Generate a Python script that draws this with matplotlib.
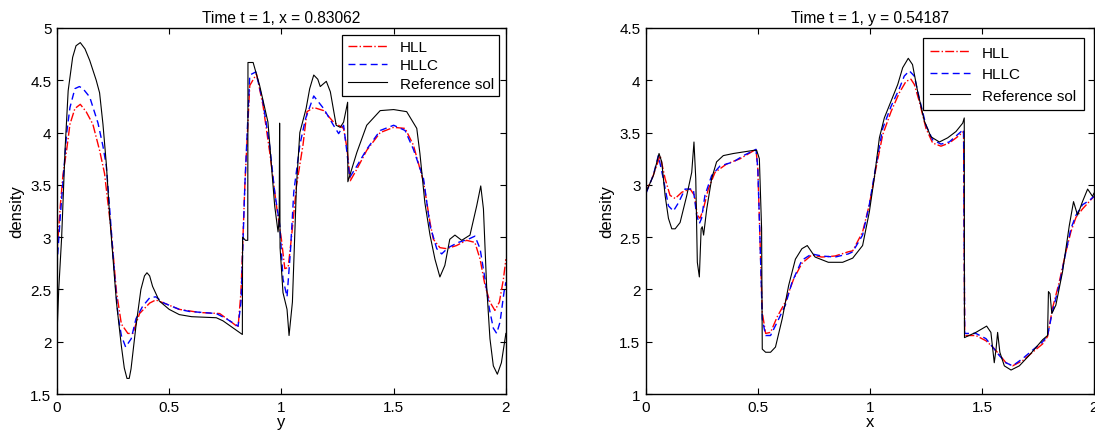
import matplotlib
matplotlib.use("Agg")
import matplotlib.pyplot as plt
from matplotlib.ticker import FormatStrFormatter

plt.rcParams['font.family'] = ['Liberation Sans', 'DejaVu Sans']

# ---- left panel: cut at x = 0.83062, plotted against y ----
ref_l_x = [0, 0.008, 0.021, 0.036, 0.05, 0.07, 0.085, 0.104, 0.125, 0.146, 0.175, 0.19, 0.205, 0.22,
           0.235, 0.25, 0.265, 0.287, 0.3, 0.312, 0.322, 0.33, 0.352, 0.374, 0.39, 0.401, 0.413, 0.426,
           0.456, 0.5, 0.545, 0.6, 0.71, 0.74, 0.826, 0.827, 0.84, 0.85, 0.851, 0.874, 0.903, 0.94,
           0.97, 0.985, 0.99, 0.992, 0.994, 1.007, 1.025, 1.034, 1.049, 1.067, 1.082, 1.11, 1.126,
           1.144, 1.162, 1.173, 1.2, 1.218, 1.244, 1.262, 1.277, 1.295, 1.296, 1.336, 1.38, 1.44, 1.5,
           1.558, 1.603, 1.617, 1.639, 1.662, 1.684, 1.706, 1.728, 1.75, 1.773, 1.803, 1.84, 1.87,
           1.888, 1.9, 1.914, 1.929, 1.944, 1.962, 1.98, 2.0]
ref_l_y = [2.06, 2.5, 3.0, 3.83, 4.40, 4.72, 4.83, 4.86, 4.8, 4.69, 4.5, 4.38, 4.08, 3.7,
           3.2, 2.79, 2.38, 1.96, 1.75, 1.65, 1.65, 1.74, 2.15, 2.5, 2.63, 2.66, 2.63, 2.53,
           2.39, 2.31, 2.26, 2.24, 2.23, 2.2, 2.07, 3.0, 2.97, 2.97, 4.67, 4.67, 4.45, 4.1,
           3.3, 3.05, 3.17, 4.09, 2.9, 2.47, 2.31, 2.06, 2.38, 3.49, 4.0, 4.23, 4.42,
           4.55, 4.51, 4.44, 4.49, 4.39, 4.07, 4.05, 4.1, 4.29, 3.53, 3.81, 4.07, 4.21, 4.22,
           4.2, 4.04, 3.8, 3.33, 3.02, 2.79, 2.62, 2.73, 2.98, 3.02, 2.97, 3.02, 3.3,
           3.49, 3.27, 2.54, 2.03, 1.77, 1.69, 1.8, 2.08]

hllc_l_x = [0, 0.015, 0.027, 0.043, 0.058, 0.08, 0.1, 0.116, 0.146, 0.183, 0.205, 0.22, 0.235, 0.257,
            0.272, 0.287, 0.306, 0.331, 0.352, 0.382, 0.413, 0.44, 0.477, 0.545, 0.59, 0.71, 0.755,
            0.807, 0.82, 0.837, 0.859, 0.886, 0.918, 0.948, 0.97, 0.993, 1.007, 1.025, 1.04, 1.055,
            1.082, 1.107, 1.144, 1.188, 1.232, 1.255, 1.277, 1.292, 1.304, 1.336, 1.38, 1.44, 1.5,
            1.551, 1.588, 1.633, 1.662, 1.692, 1.714, 1.743, 1.788, 1.832, 1.862, 1.885, 1.907,
            1.926, 1.944, 1.959, 1.974, 1.992, 2.0]
hllc_l_y = [2.73, 3.2, 3.53, 3.99, 4.24, 4.42, 4.44, 4.42, 4.34, 4.09, 3.87, 3.68, 3.27, 2.63,
            2.25, 2.06, 1.95, 2.03, 2.22, 2.34, 2.42, 2.43, 2.37, 2.31, 2.29, 2.27, 2.22,
            2.15, 2.38, 3.49, 4.55, 4.58, 4.29, 3.87, 3.43, 3.11, 2.6, 2.43, 2.86, 3.43,
            3.88, 4.13, 4.35, 4.23, 4.07, 3.99, 4.07, 3.81, 3.57, 3.68, 3.84, 4.02, 4.07,
            4.02, 3.84, 3.56, 3.11, 2.89, 2.84, 2.9, 2.95, 2.98, 3.01, 2.89, 2.6,
            2.32, 2.13, 2.08, 2.19, 2.48, 2.57]

hll_l_x = [0, 0.015, 0.027, 0.043, 0.058, 0.08, 0.104, 0.13, 0.16, 0.19, 0.212, 0.242, 0.265, 0.287,
           0.316, 0.338, 0.368, 0.413, 0.44, 0.477, 0.545, 0.636, 0.725, 0.77, 0.807, 0.82, 0.837,
           0.859, 0.889, 0.918, 0.948, 0.978, 1.0, 1.015, 1.03, 1.045, 1.067, 1.096, 1.114, 1.144,
           1.188, 1.232, 1.277, 1.292, 1.307, 1.336, 1.38, 1.44, 1.5, 1.551, 1.588, 1.633, 1.662,
           1.677, 1.706, 1.736, 1.78, 1.825, 1.862, 1.885, 1.907, 1.929, 1.951, 1.971, 1.989, 2.0]
hll_l_y = [2.85, 3.3, 3.6, 3.83, 4.08, 4.23, 4.27, 4.2, 4.08, 3.83, 3.61, 3.05, 2.48, 2.17,
           2.08, 2.08, 2.27, 2.37, 2.4, 2.37, 2.31, 2.28, 2.27, 2.2, 2.14, 2.48, 3.49,
           4.45, 4.56, 4.26, 3.81, 3.3, 2.98, 2.7, 2.71, 3.0, 3.49, 3.88, 4.2, 4.24,
           4.21, 4.1, 4.04, 3.85, 3.54, 3.65, 3.83, 4.0, 4.05, 4.04, 3.88, 3.53, 3.14,
           2.98, 2.9, 2.89, 2.92, 2.97, 2.95, 2.79, 2.54, 2.38, 2.3, 2.38, 2.6, 2.79]

# ---- right panel: cut at y = 0.54187, plotted against x ----
ref_r_x = [0, 0.033, 0.058, 0.07, 0.085, 0.1, 0.115, 0.13, 0.152, 0.182, 0.204, 0.214, 0.222, 0.229,
           0.238, 0.246, 0.251, 0.257, 0.271, 0.293, 0.315, 0.345, 0.39, 0.42, 0.48, 0.494, 0.506,
           0.516, 0.519, 0.534, 0.556, 0.578, 0.608, 0.637, 0.667, 0.696, 0.72, 0.755, 0.814, 0.878,
           0.923, 0.967, 0.997, 1.019, 1.042, 1.064, 1.094, 1.124, 1.146, 1.171, 1.19, 1.213, 1.243,
           1.272, 1.31, 1.347, 1.384, 1.414, 1.421, 1.422, 1.473, 1.521, 1.54, 1.555, 1.563, 1.57,
           1.58, 1.6, 1.63, 1.667, 1.711, 1.771, 1.793, 1.797, 1.804, 1.812, 1.83, 1.86, 1.89,
           1.909, 1.927, 1.949, 1.972, 1.994, 2.0]
ref_r_y = [2.93, 3.09, 3.3, 3.22, 2.9, 2.68, 2.58, 2.58, 2.64, 2.9, 3.12, 3.41, 3.06, 2.26,
           2.12, 2.58, 2.6, 2.52, 2.77, 3.06, 3.22, 3.28, 3.3, 3.31, 3.33, 3.33, 3.25,
           2.58, 1.43, 1.4, 1.4, 1.45, 1.72, 2.04, 2.29, 2.39, 2.42, 2.31, 2.26, 2.26,
           2.3, 2.42, 2.74, 3.06, 3.45, 3.64, 3.8, 3.96, 4.12, 4.21, 4.15, 3.89, 3.61,
           3.46, 3.41, 3.45, 3.51, 3.59, 3.64, 1.54, 1.59, 1.65, 1.59, 1.3, 1.43, 1.59,
           1.4, 1.27, 1.23, 1.27, 1.37, 1.52, 1.56, 1.98, 1.96, 1.77, 1.85, 2.17, 2.61,
           2.84, 2.71, 2.84, 2.96, 2.89, 2.92]

hllc_r_x = [0, 0.032, 0.055, 0.077, 0.1, 0.122, 0.145, 0.174, 0.211, 0.226, 0.238, 0.248, 0.263,
            0.293, 0.33, 0.39, 0.435, 0.491, 0.499, 0.507, 0.519, 0.534, 0.556, 0.586, 0.622, 0.652,
            0.696, 0.74, 0.785, 0.844, 0.903, 0.923, 0.967, 0.997, 1.027, 1.057, 1.094, 1.131, 1.153,
            1.176, 1.198, 1.22, 1.25, 1.28, 1.317, 1.354, 1.391, 1.418, 1.423, 1.473, 1.518, 1.548,
            1.577, 1.607, 1.637, 1.682, 1.726, 1.771, 1.793, 1.815, 1.845, 1.875, 1.897, 1.92,
            1.949, 1.979, 2.0]
hllc_r_y = [2.92, 3.09, 3.28, 3.06, 2.8, 2.75, 2.83, 2.96, 2.96, 2.71, 2.63, 2.68, 2.9,
            3.09, 3.18, 3.22, 3.28, 3.34, 3.16, 2.61, 1.72, 1.56, 1.56, 1.69, 1.85, 2.07,
            2.28, 2.34, 2.32, 2.31, 2.34, 2.36, 2.52, 2.81, 3.19, 3.54, 3.75, 3.92, 4.04,
            4.09, 4.04, 3.83, 3.57, 3.43, 3.39, 3.41, 3.48, 3.53, 1.58, 1.58, 1.53, 1.45,
            1.37, 1.3, 1.27, 1.34, 1.42, 1.5, 1.56, 1.79, 2.04, 2.36, 2.58, 2.71,
            2.81, 2.85, 2.89]

hll_r_x = [0, 0.032, 0.063, 0.085, 0.107, 0.13, 0.16, 0.197, 0.216, 0.229, 0.241, 0.256, 0.278,
           0.308, 0.36, 0.42, 0.491, 0.499, 0.507, 0.519, 0.534, 0.556, 0.586, 0.622, 0.659, 0.696,
           0.74, 0.785, 0.844, 0.903, 0.923, 0.967, 0.997, 1.027, 1.057, 1.094, 1.131, 1.161, 1.183,
           1.198, 1.22, 1.25, 1.28, 1.317, 1.354, 1.391, 1.418, 1.423, 1.473, 1.518, 1.548, 1.577,
           1.607, 1.637, 1.682, 1.726, 1.771, 1.793, 1.815, 1.845, 1.875, 1.897, 1.92, 1.949,
           1.979, 2.0]
hll_r_y = [2.93, 3.09, 3.28, 3.06, 2.9, 2.87, 2.93, 2.96, 2.9, 2.71, 2.68, 2.77, 2.96,
           3.12, 3.2, 3.25, 3.34, 3.16, 2.61, 1.78, 1.58, 1.59, 1.74, 1.88, 2.1, 2.25,
           2.33, 2.31, 2.32, 2.36, 2.37, 2.55, 2.81, 3.16, 3.48, 3.7, 3.88, 3.99, 4.01,
           3.96, 3.8, 3.54, 3.4, 3.37, 3.4, 3.46, 3.51, 1.56, 1.56, 1.51, 1.45, 1.38,
           1.3, 1.27, 1.32, 1.4, 1.48, 1.55, 1.82, 2.07, 2.36, 2.55, 2.69, 2.77,
           2.84, 2.89]

titles = ["Time t = 1, x = 0.83062", "Time t = 1, y = 0.54187"]
xlabels = ["y", "x"]
ylims = [(1.5, 5), (1, 4.5)]

fig = plt.figure(figsize=(10.95, 4.39), dpi=100)
ax1 = fig.add_axes([0.052, 0.100, 0.410, 0.834])
ax2 = fig.add_axes([0.590, 0.100, 0.409, 0.834])

series = [
    (hll_l_x, hll_l_y, hllc_l_x, hllc_l_y, ref_l_x, ref_l_y),
    (hll_r_x, hll_r_y, hllc_r_x, hllc_r_y, ref_r_x, ref_r_y),
]
# legend spacing differs a bit between the two panels in the original
leg_opts = [dict(labelspacing=0.28, borderpad=0.35, borderaxespad=0.45),
            dict(labelspacing=0.5, borderpad=0.5, borderaxespad=0.65)]

for i, ax in enumerate([ax1, ax2]):
    ax_, ay_, bx_, by_, cx_, cy_ = series[i]
    ax.plot(ax_, ay_, color='red', linestyle='-.', lw=1.0, label='HLL')
    ax.plot(bx_, by_, color='blue', linestyle=(0, (5, 3)), lw=1.0, label='HLLC')
    ax.plot(cx_, cy_, color='black', linestyle='-', lw=0.8, label='Reference sol')
    ax.set_xlim(0, 2)
    ax.set_ylim(*ylims[i])
    ax.set_xticks([0, 0.5, 1, 1.5, 2])
    ax.xaxis.set_major_formatter(FormatStrFormatter('%g'))
    ax.yaxis.set_major_formatter(FormatStrFormatter('%g'))
    ax.tick_params(direction='in', top=True, right=True, labelsize=11, length=4, pad=4)
    for s in ax.spines.values():
        s.set_linewidth(1.0)
    ax.set_title(titles[i], fontsize=11.2, pad=4)
    ax.set_xlabel(xlabels[i], fontsize=12, labelpad=0)
    ax.set_ylabel('density', fontsize=12, labelpad=4)
    leg = ax.legend(loc='upper right', fontsize=11, fancybox=False, framealpha=1,
                    edgecolor='black', handlelength=2.6, **leg_opts[i])
    leg.get_frame().set_linewidth(0.9)

fig.savefig("out.png", dpi=100)
